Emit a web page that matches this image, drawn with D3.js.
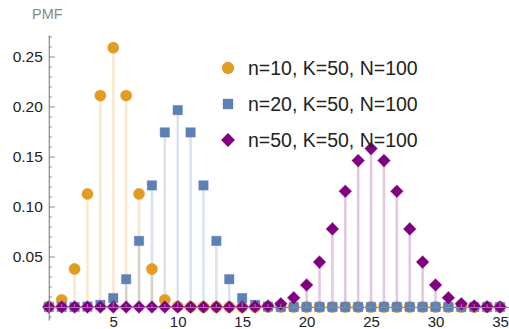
<!DOCTYPE html>
<html><head><meta charset="utf-8">
<script src="https://cdn.jsdelivr.net/npm/d3@7"></script>
<style>html,body{margin:0;padding:0;background:#fff;overflow:hidden}</style>
</head><body>
<svg id="c" width="509" height="329"></svg>
<script>
const kValues = d3.range(0, 36);
const seriesNames = ["n=10, K=50, N=100", "n=20, K=50, N=100", "n=50, K=50, N=100"];
const pmfN10 = [0.0006,0.0072,0.0380,0.1131,0.2114,0.2593,0.2114,0.1131,0.0380,0.0072,0.0006,
  0,0,0,0,0,0,0,0,0,0,0,0,0,0,0,0,0,0,0,0,0,0,0,0,0];
const pmfN20 = [0,0,0.00004,0.0004,0.0021,0.0089,0.0278,0.0661,0.1216,0.1746,0.1969,
  0.1746,0.1216,0.0661,0.0278,0.0089,0.0021,0.0004,0.00004,0,0,
  0,0,0,0,0,0,0,0,0,0,0,0,0,0,0];
const pmfN50 = [0,0,0,0,0,0,0,0,0,0,0,0,0,0,0,0.00005,0.0002,0.0010,0.0032,0.0092,0.0220,
  0.0449,0.0781,0.1157,0.1464,0.1584,0.1464,0.1157,0.0781,0.0449,0.0220,0.0092,0.0032,0.0010,0.0002,0.00005];
const yTicks = [0.05, 0.10, 0.15, 0.20, 0.25];
const xTicks = [5, 10, 15, 20, 25, 30, 35];

const colors = ["#E19C24", "#5E81B5", "#800080"];
const shapes = [d3.symbolCircle, d3.symbolSquare, d3.symbolSquare];
const rotations = [0, 0, 45];
const sizes = [100, 90, 80];
const allSeries = [pmfN10, pmfN20, pmfN50];

const svg = d3.select("#c");
const x = d3.scaleLinear().domain([-0.45, 35.7]).range([43, 509]);
const y = d3.scaleLinear().domain([-0.013, 0.272]).range([320, 35]);

// stems
allSeries.forEach((vals, si) => {
  svg.append("g").selectAll("line").data(kValues.filter(k => vals[k] > 0.0015)).enter()
    .append("line")
    .attr("x1", k => x(k)).attr("x2", k => x(k))
    .attr("y1", y(0)).attr("y2", k => y(vals[k]))
    .attr("stroke", colors[si]).attr("stroke-opacity", 0.22).attr("stroke-width", 2.6);
});
// markers
allSeries.forEach((vals, si) => {
  svg.append("g").selectAll("path").data(kValues).enter()
    .append("path")
    .attr("d", d3.symbol().type(shapes[si]).size(sizes[si]))
    .attr("transform", k => `translate(${x(k)},${y(vals[k])}) rotate(${rotations[si]})`)
    .attr("fill", colors[si])
    .attr("stroke", colors[si]).attr("stroke-opacity", 0.35).attr("stroke-width", 1);
});

// axes (drawn on top)
const axisColor = "#8a8a8a";
const xAxis = d3.axisBottom(x).tickValues(xTicks).tickSize(0).tickFormat(d3.format("d")).tickPadding(9);
const gx = svg.append("g").attr("transform", `translate(0,${y(0)})`).call(xAxis);
gx.select(".domain").attr("stroke", axisColor).attr("stroke-width", 1.2);
gx.selectAll("text").attr("font-family", "Liberation Sans, Arial, sans-serif").attr("font-size", 15).attr("fill", "#222");
// x ticks pointing up
svg.append("g").selectAll("line").data(d3.range(1, 36)).enter().append("line")
  .attr("x1", d => x(d)).attr("x2", d => x(d))
  .attr("y1", y(0)).attr("y2", d => y(0) - (d % 5 === 0 ? 5 : 3))
  .attr("stroke", axisColor).attr("stroke-width", 1);

const yAxis = d3.axisLeft(y).tickValues(yTicks).tickSize(0).tickFormat(d3.format(".2f")).tickPadding(6);
const gy = svg.append("g").attr("transform", `translate(${x(0)},0)`).call(yAxis);
gy.select(".domain").attr("stroke", axisColor).attr("stroke-width", 1.2);
gy.selectAll("text").attr("font-family", "Liberation Sans, Arial, sans-serif").attr("font-size", 15.5).attr("fill", "#222");
const yMinor = d3.range(-1, 28).map(i => i / 100);
svg.append("g").selectAll("line").data(yMinor).enter().append("line")
  .attr("x1", x(0)).attr("x2", d => x(0) + (Math.abs(Math.round(d * 100)) % 5 === 0 && d !== 0 ? 6 : 3))
  .attr("y1", d => y(d)).attr("y2", d => y(d))
  .attr("stroke", axisColor).attr("stroke-width", 1);

// axis label
svg.append("text").attr("x", 32).attr("y", 19).text("PMF")
  .attr("font-family", "Liberation Sans, Arial, sans-serif").attr("font-size", 14.5).attr("fill", "#888");

// legend
const leg = svg.append("g");
seriesNames.forEach((name, i) => {
  const cy = 68 + i * 36;
  leg.append("path").attr("d", d3.symbol().type(shapes[i]).size(sizes[i] * 1.2)())
    .attr("transform", `translate(228,${cy}) rotate(${rotations[i]})`).attr("fill", colors[i]);
  leg.append("text").attr("x", 248).attr("y", cy + 7).text(name)
    .attr("font-family", "Liberation Sans, Arial, sans-serif").attr("font-size", 19.5).attr("fill", "#222");
});
</script>
</body></html>
